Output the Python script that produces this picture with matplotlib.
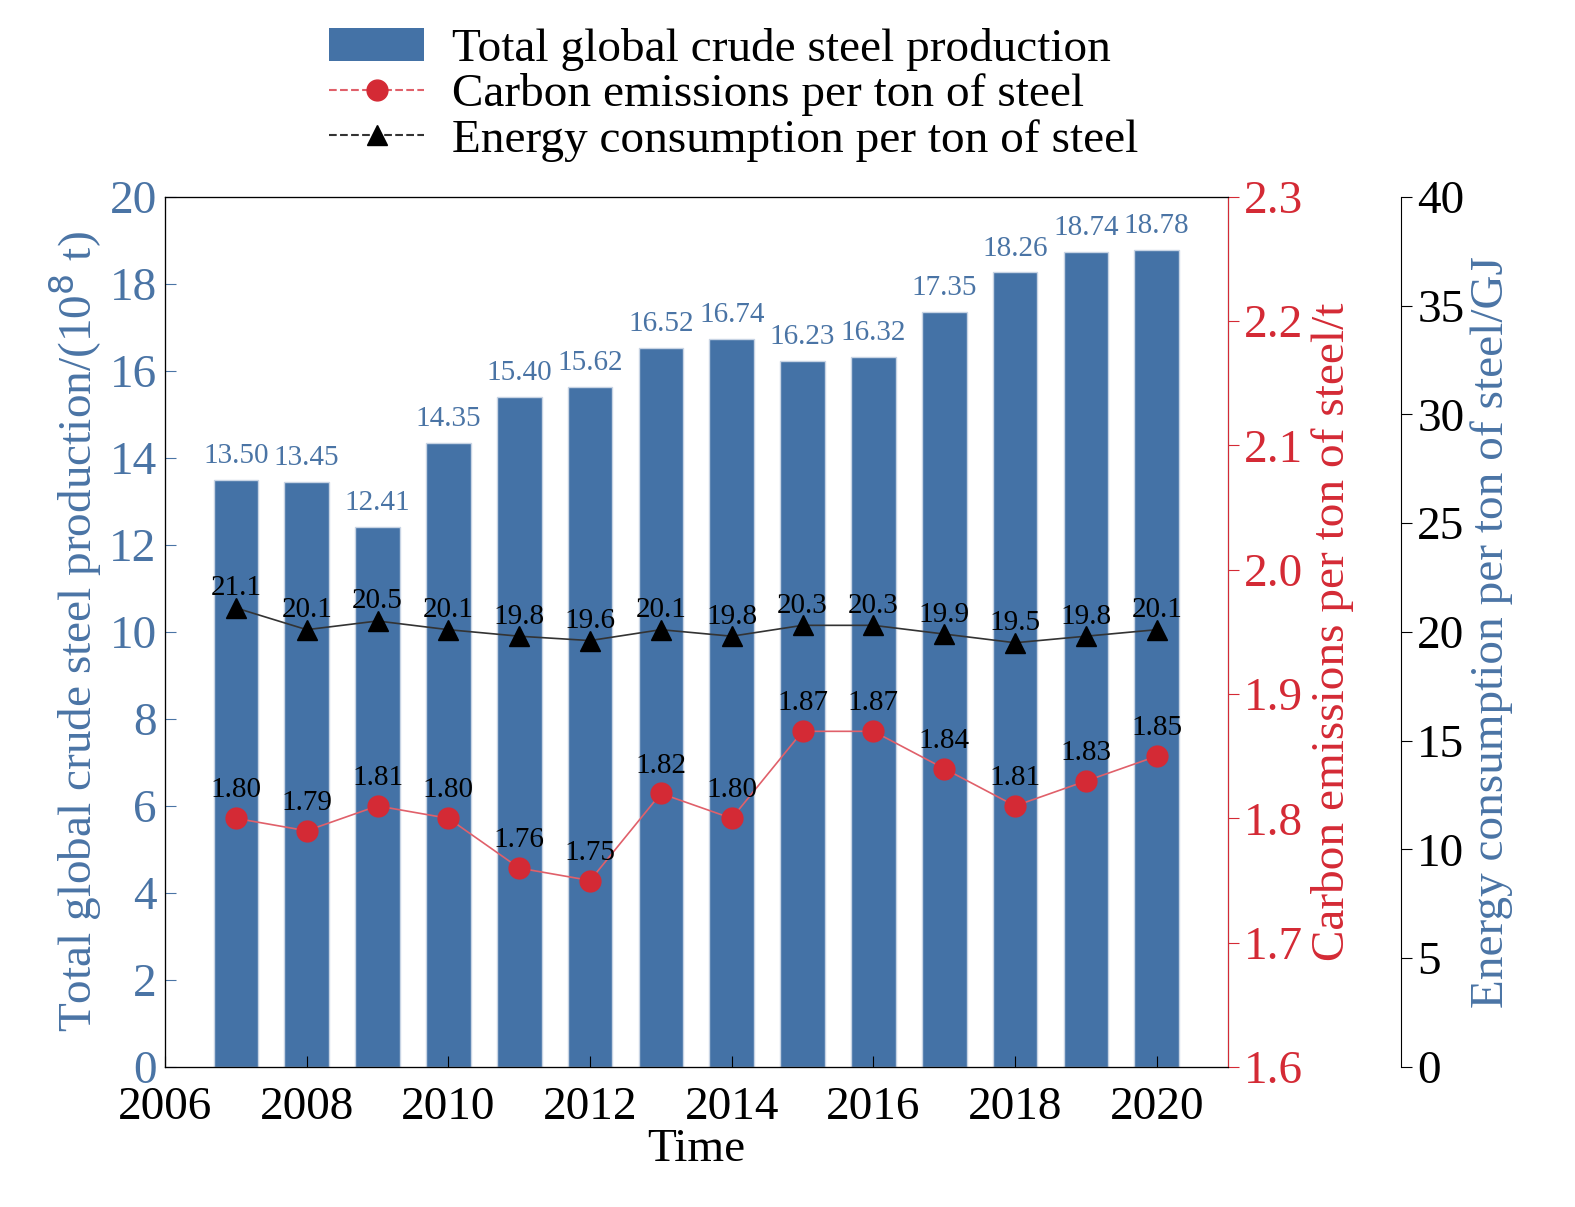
import matplotlib
matplotlib.use("Agg")
import matplotlib.pyplot as plt
from matplotlib.patches import Patch
from matplotlib.lines import Line2D

years = [2007, 2008, 2009, 2010, 2011, 2012, 2013, 2014, 2015, 2016, 2017, 2018, 2019, 2020]
production = [13.50, 13.45, 12.41, 14.35, 15.40, 15.62, 16.52, 16.74, 16.23, 16.32, 17.35, 18.26, 18.74, 18.78]
carbon = [1.80, 1.79, 1.81, 1.80, 1.76, 1.75, 1.82, 1.80, 1.87, 1.87, 1.84, 1.81, 1.83, 1.85]
energy = [21.1, 20.1, 20.5, 20.1, 19.8, 19.6, 20.1, 19.8, 20.3, 20.3, 19.9, 19.5, 19.8, 20.1]

plt.rcParams["font.family"] = "Liberation Serif"
BLUE = "#4472a6"
TBLUE = "#4a74a5"
RED = "#d42a35"
FS = 34

fig = plt.figure(figsize=(15.75, 12.07), dpi=100)
ax = fig.add_axes([0.1048, 0.116, 0.6746, 0.721])
ax.bar(years, production, width=0.63, color=BLUE, edgecolor="#c8d4e4", linewidth=1)
for x, v in zip(years, production):
    ax.text(x, v + 0.25, f"{v:.2f}", ha="center", va="bottom", color=TBLUE, fontsize=21)
ax.set_xlim(2006, 2021)
ax.set_ylim(0, 20)
ax.set_xticks(range(2006, 2021, 2))
ax.set_yticks(range(0, 21, 2))
ax.tick_params(axis="y", colors=TBLUE, labelsize=FS, direction="in", length=8, pad=6)
ax.tick_params(axis="x", labelsize=FS, direction="in", length=8, pad=14)
ax.set_xlabel("Time", fontsize=FS, labelpad=0)
ax.set_ylabel("Total global crude steel production/(10$^8$ t)", color=TBLUE, fontsize=FS, labelpad=4)

ax2 = ax.twinx()
ax2.plot(years, carbon, color="#e0606a", marker="o", markersize=15, linewidth=1.2,
         markerfacecolor=RED, markeredgecolor=RED, zorder=3)
for x, v in zip(years, carbon):
    ax2.text(x, v + 0.012, f"{v:.2f}", ha="center", va="bottom", fontsize=21)
ax2.set_ylim(1.6, 2.3)
ax2.set_yticks([1.6, 1.7, 1.8, 1.9, 2.0, 2.1, 2.2, 2.3])
ax2.set_yticklabels(["1.6", "1.7", "1.8", "1.9", "2.0", "2.1", "2.2", "2.3"])
ax2.spines["right"].set_color(RED)
ax2.tick_params(axis="y", colors=RED, labelsize=FS, length=8)
ax2.set_ylabel("Carbon emissions per ton of steel/t", color=RED, fontsize=FS, labelpad=6)

ax3 = ax.twinx()
ax3.spines["right"].set_position(("axes", 1.1636))
ax3.plot(years, energy, color="#333333", marker="^", markersize=15, linewidth=1.2,
         markerfacecolor="black", markeredgecolor="black", zorder=3)
for x, v in zip(years, energy):
    ax3.text(x, v + 0.3, f"{v:.1f}", ha="center", va="bottom", fontsize=21)
ax3.set_ylim(0, 40)
ax3.set_yticks(range(0, 41, 5))
ax3.tick_params(axis="y", labelsize=FS, length=8)
ax3.set_ylabel("Energy consumption per ton of steel/GJ", color=TBLUE, fontsize=FS, labelpad=4)

handles = [Patch(facecolor=BLUE),
           Line2D([], [], color="#e0606a", marker="o", markersize=15, linestyle="--",
                  markerfacecolor=RED, markeredgecolor=RED),
           Line2D([], [], color="#333333", marker="^", markersize=15, linestyle="--",
                  markerfacecolor="black", markeredgecolor="black")]
labels = ["Total global crude steel production", "Carbon emissions per ton of steel",
          "Energy consumption per ton of steel"]
fig.legend(handles, labels, loc="upper center", bbox_to_anchor=(0.466, 1.012), frameon=False,
           fontsize=FS, handlelength=2.0, labelspacing=0.05, handletextpad=0.6)

fig.savefig("out.png", dpi=100)
